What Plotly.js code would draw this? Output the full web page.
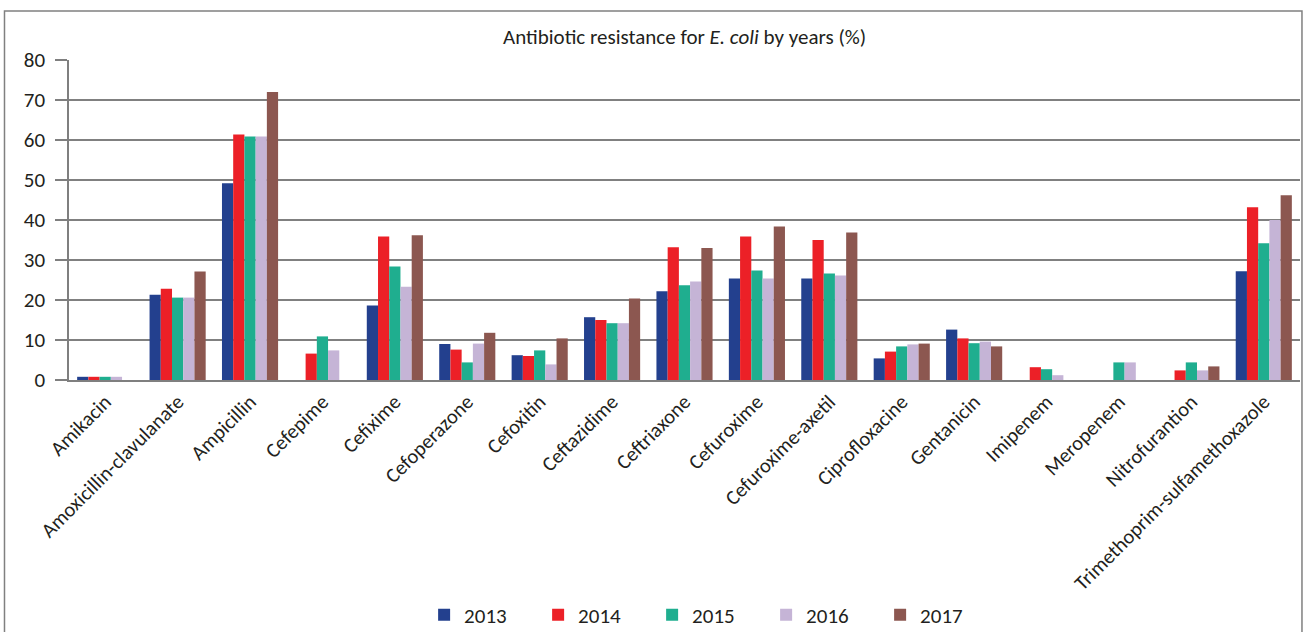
<!DOCTYPE html>
<html>
<head>
<meta charset="utf-8">
<script src="https://cdn.plot.ly/plotly-3.0.1.min.js"></script>
<style>
html,body{margin:0;padding:0;background:#fff;}
#chart{width:1304px;height:632px;}
</style>
</head>
<body>
<div id="chart"></div>
<script>
const categories = ["Amikacin","Amoxicillin-clavulanate","Ampicillin","Cefepime","Cefixime","Cefoperazone","Cefoxitin","Ceftazidime","Ceftriaxone","Cefuroxime","Cefuroxime-axetil","Ciprofloxacine","Gentanicin","Imipenem","Meropenem","Nitrofurantion","Trimethoprim-sulfamethoxazole"];
const years = ["2013","2014","2015","2016","2017"];
const v2013 = [0.8, 21.3, 49.2, null, 18.6, 9.0, 6.2, 15.7, 22.2, 25.4, 25.4, 5.4, 12.6, null, null, null, 27.2];
const v2014 = [0.8, 22.8, 61.4, 6.6, 35.9, 7.6, 6.0, 15.0, 33.2, 35.9, 35.0, 7.1, 10.4, 3.2, null, 2.4, 43.2];
const v2015 = [0.8, 20.6, 60.9, 10.9, 28.4, 4.4, 7.4, 14.2, 23.7, 27.4, 26.6, 8.4, 9.2, 2.7, 4.4, 4.4, 34.2];
const v2016 = [0.8, 20.6, 60.9, 7.4, 23.3, 9.1, 3.9, 14.2, 24.6, 25.4, 26.1, 8.9, 9.6, 1.2, 4.4, 2.4, 40.0];
const v2017 = [null, 27.1, 72.0, null, 36.2, 11.8, 10.4, 20.4, 33.0, 38.4, 36.9, 9.1, 8.4, null, null, 3.4, 46.2];
const seriesValues = [v2013, v2014, v2015, v2016, v2017];
const colors = ["#23408e", "#ec2027", "#1fae8f", "#c5b4d6", "#8c5750"];

const textFont = "Carlito, Calibri, Lato, sans-serif";
const textColor = "#231f20";

const traces = years.map((y, i) => ({
  type: "bar",
  name: y,
  x: categories,
  y: seriesValues[i],
  marker: {color: colors[i], line: {width: 0}},
  hoverinfo: "x+y+name"
}));

const layout = {
  width: 1304,
  height: 632,
  margin: {l: 69, r: 4, t: 60, b: 252, pad: 0, autoexpand: false},
  paper_bgcolor: "#ffffff",
  plot_bgcolor: "#ffffff",
  font: {family: textFont, color: textColor, size: 20},
  title: {
    text: "Antibiotic resistance for <i>E. coli</i> by years (%)",
    font: {family: textFont, size: 21, color: textColor},
    x: 0.525, xanchor: "center", y: 0.942, yanchor: "middle"
  },
  barmode: "group",
  bargap: 0.225,
  bargroupgap: 0,
  xaxis: {
    type: "category",
    tickangle: -45,
    showline: true, linecolor: "#7f7f7f", linewidth: 1.5,
    ticks: "", showgrid: false,
    tickfont: {family: textFont, size: 20.5, color: textColor},
    automargin: false
  },
  yaxis: {
    range: [0, 80],
    dtick: 10,
    showline: true, linecolor: "#7f7f7f", linewidth: 1.5,
    ticks: "outside", ticklen: 12, tickcolor: "#7f7f7f", tickwidth: 1.5,
    ticklabelstandoff: 6,
    showgrid: true, gridcolor: "#808080", gridwidth: 1.5,
    zeroline: false,
    tickfont: {family: textFont, size: 21, color: textColor},
    automargin: false
  },
  legend: {
    orientation: "h",
    x: 0.52, xanchor: "center",
    y: -0.735, yanchor: "middle",
    font: {family: textFont, size: 21, color: textColor},
    entrywidth: 69, entrywidthmode: "pixels",
    itemclick: false, itemdoubleclick: false,
    traceorder: "normal"
  },
  shapes: [{
    type: "rect", xref: "paper", yref: "paper",
    x0: -0.0524, x1: 1.0016, y0: -0.85, y1: 1.153,
    line: {color: "#808080", width: 1.5}, fillcolor: "rgba(0,0,0,0)", layer: "below"
  }],
  showlegend: true
};

Plotly.newPlot("chart", traces, layout, {displayModeBar: false, responsive: false});
</script>
</body>
</html>
